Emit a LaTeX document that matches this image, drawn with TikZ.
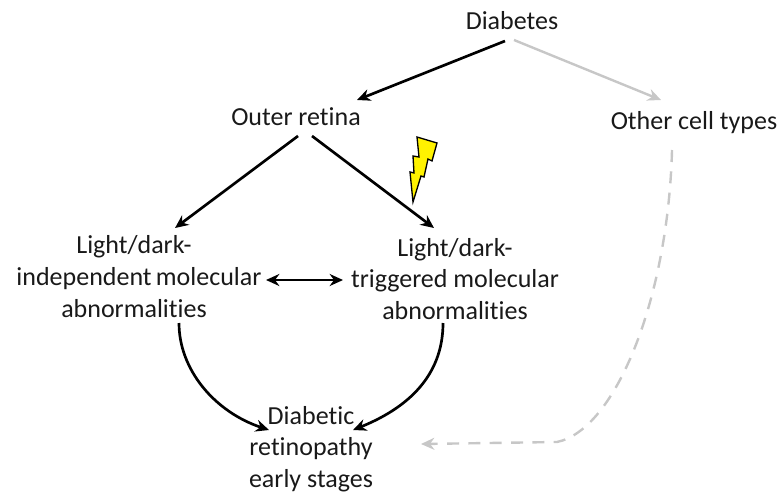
\documentclass[tikz,border=0pt]{standalone}
\usepackage{fontspec}
\setmainfont[Ligatures=NoCommon]{Carlito}
\usetikzlibrary{arrows.meta}
\tikzset{
  label text/.style={align=center,font=\fontsize{19.5}{23.5}\selectfont,inner sep=0pt,text=black!90},
  dark arrow/.style={line width=2pt,-{Stealth[length=10pt,width=9pt]}},
  pale arrow/.style={line width=1.8pt,draw=black!22,-{Stealth[length=10pt,width=9pt]}},
}
\begin{document}
\begin{tikzpicture}[x=1pt,y=-1pt,xscale=0.75,yscale=0.75]
  \useasboundingbox (0,0) rectangle (783,495);
  \node[label text] (diabetes) at (512,21) {Diabetes};
  \node[label text] (outer) at (296,117) {Outer retina};
  \node[label text] (other) at (694,123) {Other cell types};
  \node[label text] (indepa) at (134,247) {Light/dark-};
  \node[label text] (indepb) at (139,279) {independent\,molecular};
  \node[label text] (indepc) at (134,309) {abnormalities};
  \node[label text] (trig) at (455,279) {Light/dark-\\triggered molecular\\abnormalities};
  \node[label text] (early) at (311,449) {Diabetic\\retinopathy\\early stages};
  \coordinate (d1) at (505,41);
  \coordinate (d2) at (514,40);
  \coordinate (o1) at (298,136);
  \coordinate (o2) at (312,136);
  \coordinate (i1) at (175,228);
  \coordinate (t1) at (434,228);
  \coordinate (i2) at (266,280);
  \coordinate (t2) at (343,280);
  \coordinate (i3) at (179,323);
  \coordinate (t3) at (443,323);
  \coordinate (e1) at (269,430);
  \coordinate (e2) at (353,430);
  \coordinate (c1) at (661,100);
  \coordinate (c2) at (672,150);
  \coordinate (e3) at (421,444);
  \draw[dark arrow] (d1) -- (357,100);
  \draw[pale arrow] (d2) -- (c1);
  \draw[dark arrow] (o1) -- (i1);
  \draw[dark arrow] (o2) -- (t1);
  \draw[dark arrow,{Stealth[length=10pt,width=9pt]}-{Stealth[length=10pt,width=9pt]}] (i2) -- (t2);
  \draw[dark arrow] (i3) .. controls (179,370) and (215,412) .. (e1);
  \draw[dark arrow] (t3) .. controls (443,370) and (415,405) .. (e2);
  \draw[pale arrow,dash pattern=on 9pt off 7pt] (c2) .. controls (668,300) and (615,430) .. (557,442) -- (e3);
  \filldraw[draw=black,fill=yellow,line width=1pt] (417,137) -- (437,143) -- (432,161) -- (428,159) -- (424,177) -- (421,176) -- (413,202) -- (410,172) -- (414,173) -- (413,156) -- (419,157) -- cycle;
\end{tikzpicture}
\end{document}
